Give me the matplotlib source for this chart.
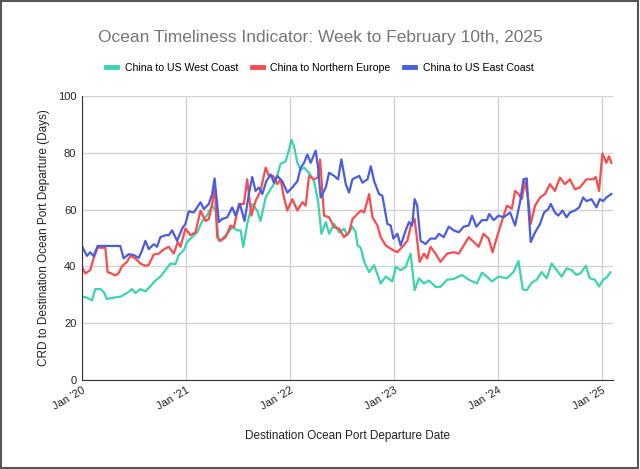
import matplotlib
matplotlib.use("Agg")
from matplotlib import pyplot as plt
from matplotlib.patches import Rectangle

plt.rcParams["font.family"] = ["Liberation Sans", "DejaVu Sans"]

# dates as decimal years, values in days
wc_t = [2020.000, 2020.048, 2020.096, 2020.128, 2020.177, 2020.209, 2020.241, 2020.305, 2020.369, 2020.433,
        2020.482, 2020.514, 2020.562, 2020.610, 2020.658, 2020.706, 2020.754, 2020.803, 2020.851, 2020.899,
        2020.931, 2020.979,
        2021.011, 2021.059, 2021.108, 2021.156, 2021.204, 2021.252, 2021.284, 2021.316, 2021.348, 2021.396,
        2021.445, 2021.493, 2021.525, 2021.551, 2021.589, 2021.637, 2021.685, 2021.717, 2021.766, 2021.814,
        2021.862, 2021.910, 2021.958, 2021.990,
        2022.013, 2022.039, 2022.071, 2022.103, 2022.135, 2022.183, 2022.231, 2022.270, 2022.302, 2022.344,
        2022.376, 2022.424, 2022.472, 2022.520, 2022.552, 2022.600, 2022.632,
        2022.649, 2022.681, 2022.713, 2022.761, 2022.809, 2022.872, 2022.920, 2022.984,
        2023.016, 2023.064, 2023.112, 2023.159, 2023.198, 2023.239, 2023.287, 2023.335, 2023.399, 2023.447,
        2023.510, 2023.574, 2023.654, 2023.718, 2023.797, 2023.845, 2023.893, 2023.941,
        2024.005, 2024.085, 2024.148, 2024.196, 2024.238, 2024.276, 2024.324, 2024.372, 2024.419, 2024.467,
        2024.515, 2024.563, 2024.611, 2024.659, 2024.707, 2024.754, 2024.793, 2024.844, 2024.882, 2024.930,
        2024.971,
        2025.010, 2025.041, 2025.080]
wc_v = [29.4, 29, 28, 32, 32, 31, 28.5, 29, 29.3, 30.6,
        32, 30.6, 32, 31.2, 33, 35, 36.4, 38.7, 41, 40.8,
        44, 45.7,
        48.6, 50.3, 52, 56, 58, 61.4, 59.7, 49, 49.8, 51.5,
        53.8, 52.7, 52.7, 46.9, 55, 62, 59.7, 56, 64.3, 67.2,
        70, 76.2, 77, 81,
        84.6, 82.3, 76.5, 74, 74.8, 73, 70, 63, 51.5, 55.6,
        51.5, 55, 52, 53.3, 51, 54, 52,
        47.4, 46.5, 41.6, 38, 40.4, 34, 36.4, 34.7,
        39.8, 38.7, 39.8, 44.5, 31.6, 35.8, 34, 35, 32.8, 32.8,
        35.3, 35.6, 37, 35.3, 34, 37.8, 36.4, 34.7,
        36.4, 35.8, 38, 41.9, 31.9, 31.6, 34.3, 35.3, 38, 35.8,
        41, 38.7, 36.4, 39.3, 38.7, 37, 37.6, 40.2, 35.8, 35.3,
        32.9,
        35.3, 36, 37.9]

ne_t = [2020.000, 2020.032, 2020.080, 2020.112, 2020.151, 2020.225, 2020.247, 2020.289, 2020.321, 2020.353,
        2020.385, 2020.433, 2020.465, 2020.514, 2020.562, 2020.610, 2020.642, 2020.690, 2020.738, 2020.787,
        2020.835, 2020.883, 2020.921, 2020.947, 2020.995,
        2021.043, 2021.091, 2021.140, 2021.188, 2021.220, 2021.252, 2021.278, 2021.300, 2021.332, 2021.380,
        2021.429, 2021.461, 2021.509, 2021.557, 2021.589, 2021.628, 2021.669, 2021.717, 2021.766, 2021.798,
        2021.839, 2021.878, 2021.910, 2021.942, 2021.974,
        2022.022, 2022.071, 2022.119, 2022.151, 2022.183, 2022.231, 2022.270, 2022.289, 2022.311, 2022.327,
        2022.376, 2022.424, 2022.472, 2022.520, 2022.568,
        2022.601, 2022.649, 2022.681, 2022.713, 2022.761, 2022.793, 2022.841, 2022.872, 2022.920, 2022.968,
        2023.032, 2023.080, 2023.128, 2023.166, 2023.198, 2023.223, 2023.246, 2023.287, 2023.319, 2023.351,
        2023.399, 2023.447, 2023.510, 2023.574, 2023.622, 2023.670, 2023.718, 2023.766, 2023.813, 2023.861,
        2023.909, 2023.947, 2023.989,
        2024.037, 2024.085, 2024.132, 2024.164, 2024.196, 2024.228, 2024.260, 2024.292, 2024.314, 2024.356,
        2024.404, 2024.451, 2024.499, 2024.547, 2024.595, 2024.643, 2024.691, 2024.738, 2024.786, 2024.850,
        2024.914, 2024.939, 2024.971,
        2025.003, 2025.041, 2025.067, 2025.089]
ne_v = [40, 37.5, 38.7, 42.8, 46.6, 46.6, 38, 37.4, 36.8, 37.6,
        40, 41.6, 43.7, 42.8, 41, 40.2, 40.5, 44.2, 44.5, 46,
        46.9, 44.5, 48.6, 46.9, 53.3,
        51, 52, 59.6, 56, 56.7, 62, 68.4, 50.3, 49, 50.3,
        54.4, 53.8, 62, 62, 70.7, 57.9, 63, 66.6, 74.8, 71.9,
        71.9, 69, 70.7, 64.3, 59.7,
        63.7, 59.7, 62.6, 61.4, 71.9, 70.7, 71.3, 77.7, 66.6, 57.9,
        57.3, 53.8, 53.3, 50.3, 52,
        56.7, 58.5, 59.7, 59, 65.5, 57.3, 54.4, 50.3, 47.4, 46.2,
        45, 46.9, 49, 55, 56.7, 49, 41.6, 44.5, 42.8, 46.9,
        44.5, 41.6, 44.5, 45, 44.5, 47.4, 50.3, 48.6, 46.9, 51.5,
        49.8, 45, 50.3,
        56, 61.4, 60.3, 66.6, 65.5, 63.7, 70, 63, 55, 61.4,
        64.3, 65.5, 69, 66.6, 71.3, 69, 70.7, 67.2, 67.8, 70.7,
        70.7, 71.5, 66.6,
        79.8, 76.5, 78.8, 76.5]

ec_t = [2020.000, 2020.048, 2020.080, 2020.112, 2020.151, 2020.369, 2020.401, 2020.449, 2020.498, 2020.546,
        2020.578, 2020.610, 2020.642, 2020.690, 2020.722, 2020.754, 2020.803, 2020.835, 2020.867, 2020.915,
        2020.963, 2020.995,
        2021.027, 2021.075, 2021.108, 2021.140, 2021.172, 2021.220, 2021.252, 2021.275, 2021.300, 2021.316,
        2021.348, 2021.396, 2021.445, 2021.477, 2021.519, 2021.563, 2021.605, 2021.637, 2021.669, 2021.701,
        2021.734, 2021.772, 2021.814, 2021.846, 2021.878, 2021.926, 2021.974,
        2022.022, 2022.071, 2022.103, 2022.135, 2022.167, 2022.199, 2022.247, 2022.270, 2022.295, 2022.344,
        2022.376, 2022.424, 2022.462, 2022.494, 2022.536, 2022.568, 2022.600,
        2022.665, 2022.697, 2022.745, 2022.777, 2022.809, 2022.856, 2022.888, 2022.936, 2022.968, 2022.994,
        2023.032, 2023.064, 2023.112, 2023.144, 2023.175, 2023.198, 2023.223, 2023.255, 2023.303, 2023.351,
        2023.399, 2023.431, 2023.478, 2023.526, 2023.574, 2023.622, 2023.670, 2023.718, 2023.750, 2023.791,
        2023.845, 2023.893, 2023.915, 2023.957,
        2024.005, 2024.053, 2024.116, 2024.164, 2024.212, 2024.244, 2024.276, 2024.292, 2024.314, 2024.356,
        2024.404, 2024.442, 2024.483, 2024.506, 2024.547, 2024.579, 2024.620, 2024.659, 2024.691, 2024.738,
        2024.780, 2024.818, 2024.850, 2024.898, 2024.946, 2024.978,
        2025.010, 2025.041, 2025.089]
ec_v = [47.2, 43.7, 45, 43.6, 47.2, 47.2, 42.8, 44.3, 44, 43,
        45.6, 49, 46.1, 47.8, 46.9, 50.3, 51, 51, 52.7, 49,
        53.3, 55,
        59.4, 59, 60.8, 62.6, 60.2, 62, 65.5, 71, 62, 55.6,
        56.7, 57.3, 60.8, 57.9, 62, 56, 65.5, 71.5, 66.6, 67.8,
        65.5, 70, 72.4, 69.5, 71.9, 70, 66,
        67.8, 70, 74.8, 76.5, 79.4, 76.5, 80.8, 74.8, 64.3, 67.8,
        73, 71.9, 70.7, 77.7, 69, 66, 70.7,
        71.9, 69.5, 70.7, 75.3, 70, 65.5, 64.9, 55, 54.4, 49.8,
        51.5, 47.4, 52.7, 55.6, 54.4, 63.7, 61.4, 49, 47.9, 49.8,
        49.8, 51.5, 50.3, 54, 52.7, 52, 54, 54.4, 57.9, 54,
        56.3, 56.3, 58.5, 56.3,
        57.9, 57.3, 59, 54.4, 62.8, 70.7, 71, 60.8, 48.6, 52,
        55, 59, 60.2, 62, 59, 57.9, 59.7, 57.3, 59, 59.7,
        60.8, 64.3, 63, 63.7, 60.8, 63.7,
        63, 64.3, 65.5]

assert len(wc_t) == len(wc_v) and len(ne_t) == len(ne_v) and len(ec_t) == len(ec_v)

years = [2020, 2021, 2022, 2023, 2024, 2025]
year_labels = ["Jan '20", "Jan '21", "Jan '22", "Jan '23", "Jan '24", "Jan '25"]

fig = plt.figure(figsize=(6.4, 4.69), dpi=100)
ax = fig.add_axes([0.128, 0.19, 0.83, 0.605])

ax.plot(wc_t, wc_v, color="#3bd4ae", lw=1.6, label="China to US West Coast")
ax.plot(ne_t, ne_v, color="#fa4b4f", lw=1.6, label="China to Northern Europe")
ax.plot(ec_t, ec_v, color="#4a5de0", lw=1.6, label="China to US East Coast")

ax.set_xlim(2020.0, 2025.106)
ax.set_ylim(0, 100)
ax.set_yticks(range(0, 101, 20))
ax.set_xticks(years)
ax.set_xticklabels(year_labels, rotation=30, ha="right", rotation_mode="anchor")
ax.tick_params(length=0, labelsize=8, colors="#222222", pad=4)
ax.grid(True, color="#d3d3d3", lw=1)
ax.set_axisbelow(True)
for s in ["top", "right"]:
    ax.spines[s].set_visible(False)
ax.spines["left"].set_color("#333333")
ax.spines["bottom"].set_color("#333333")

ax.set_xlabel("Destination Ocean Port Departure Date", fontsize=8.5, color="#222222", labelpad=13)
ax.set_ylabel("CRD to Destination Ocean Port Departure (Days)", fontsize=8.5, color="#222222", labelpad=6)

fig.text(0.5, 0.921, "Ocean Timeliness Indicator: Week to February 10th, 2025",
         ha="center", va="center", fontsize=12.5, color="#757575")
leg = fig.legend(loc="center", bbox_to_anchor=(0.5, 0.855), ncol=3, frameon=False,
                 fontsize=7.6, handlelength=1.0, handletextpad=0.75, columnspacing=1.3)
for h in leg.get_lines():
    h.set_linewidth(3.5)

fig.patches.append(Rectangle((0.002, 0.003), 0.995, 0.994, transform=fig.transFigure,
                             fill=False, edgecolor="#555555", lw=1.5))

fig.savefig("out.png", dpi=100)
